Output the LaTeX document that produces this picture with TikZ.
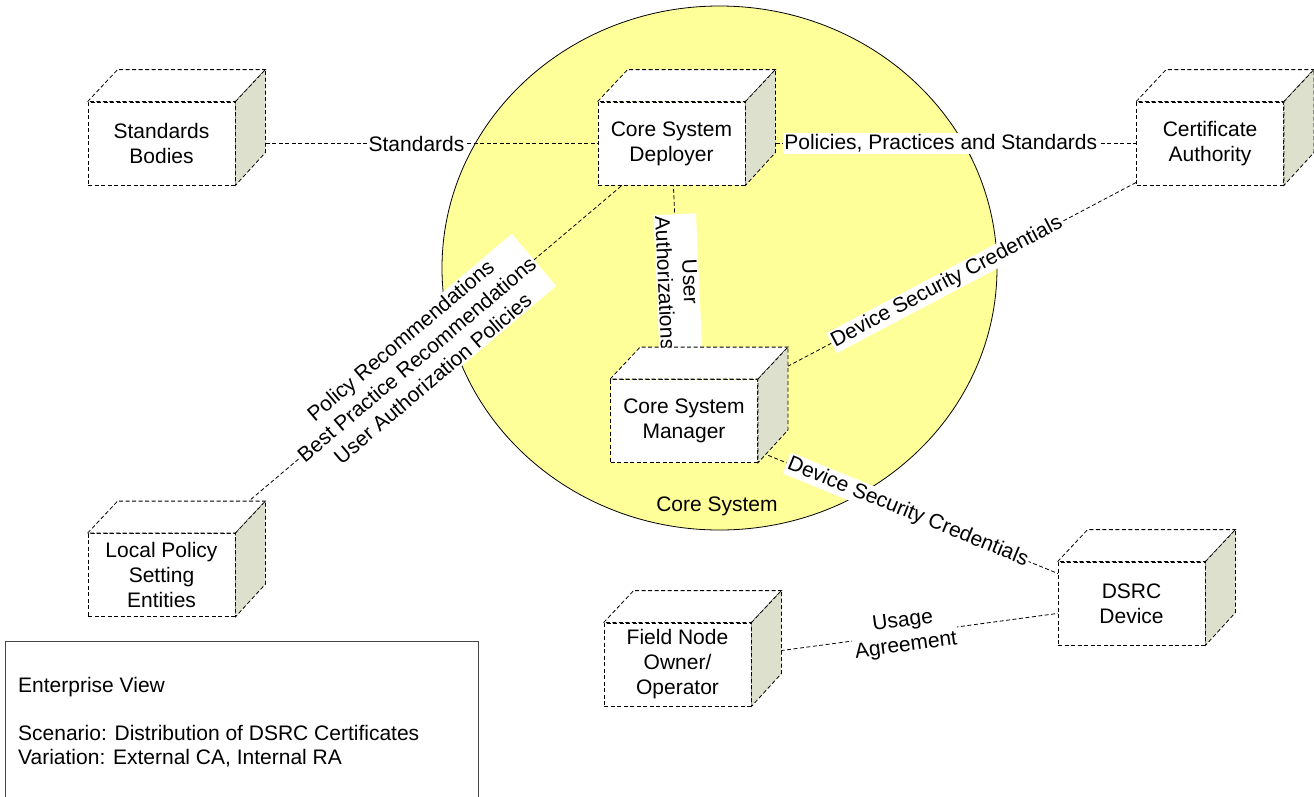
\documentclass[tikz,border=0pt]{standalone}
\usepackage{fontspec}
\setmainfont{Liberation Sans}
\usetikzlibrary{calc}
\pgfdeclarelayer{backdrop}
\pgfdeclarelayer{links}
\pgfsetlayers{backdrop,links,main}
\definecolor{coreyellow}{RGB}{255,255,153}
\definecolor{sideface}{RGB}{221,224,204}
\definecolor{framegray}{RGB}{70,70,70}
\tikzset{
  txt/.style={font=\fontsize{21}{25}\selectfont},
  dashline/.style={draw=black, line width=0.8pt, dash pattern=on 4pt off 2.5pt},
  frontface/.style={dashline, fill=white, txt, align=center,
    minimum width=147pt, minimum height=83pt, inner sep=0pt},
  link/.style={dashline},
  linklabel/.style={txt, fill=white, inner sep=1.5pt, align=center, sloped, pos=0.5},
  legendframe/.style={draw=framegray, line width=1pt},
}
% a node drawn as a box seen in perspective: front face, top face and shaded side
\newcommand\devicebox[3]{%
  \node[frontface] (#1) at (#2) {#3};
  \draw[dashline, fill=white] (#1.north west) -- ++(30,-32)
    -- ($(#1.north east)+(30,-32)$) -- (#1.north east) -- cycle;
  \draw[dashline, fill=sideface] (#1.north east) -- ++(30,-32) -- ++(0,83)
    -- (#1.south east) -- cycle;
}
\begin{document}
\begin{tikzpicture}[x=1pt,y=-1pt]
\useasboundingbox (0,0) rectangle (1314,796);
\clip (0,0) rectangle (1314,796);

\begin{pgfonlayer}{backdrop}
  \fill[white] (0,0) rectangle (1314,796);
  \draw[line width=0.8pt, fill=coreyellow] (719.5,268) ellipse [x radius=277.5pt, y radius=262pt];
\end{pgfonlayer}

\node[txt] (coresys) at (717,506) {Core System};

\devicebox{sb}{161.5,143.5}{Standards\\Bodies}
\devicebox{csd}{671.5,143.5}{Core System\\Deployer}
\devicebox{ca}{1210,143.5}{Certificate\\Authority}
\devicebox{csm}{684,421}{Core System\\Manager}
\devicebox{lps}{161.5,575}{Local Policy\\Setting\\Entities}
\devicebox{dsrc}{1131.5,603.5}{DSRC\\Device}
\devicebox{fno}{677.5,664.5}{Field Node\\Owner/\\Operator}

\begin{pgfonlayer}{links}
  \draw[link] (sb.center) -- node[linklabel] {Standards} (csd.center);
  \draw[link] (csd.center) -- node[linklabel] {Policies, Practices and Standards} (ca.center);
  \draw[link] (lps.center) -- node[linklabel] {Policy Recommendations\\Best Practice Recommendations\\User Authorization Policies} (csd.center);
  \draw[link] (csd.center) -- node[linklabel] {User\\Authorizations} (csm.center);
  \draw[link] (csm.center) -- node[linklabel] {Device Security Credentials} (ca.center);
  \draw[link] (csm.center) -- node[linklabel] {Device Security Credentials} (dsrc.center);
  \draw[link] (fno.center) -- node[linklabel] {Usage\\Agreement} (dsrc.center);
\end{pgfonlayer}

\draw[legendframe] (5,641) rectangle (478,830);
\node[txt, anchor=base west, inner sep=0pt] (legendtitle) at (18,692.5) {Enterprise View};
\node[txt, anchor=base west, inner sep=0pt] (legendscenario) at (18,740.5) {Scenario: Distribution of DSRC Certificates};
\node[txt, anchor=base west, inner sep=0pt] (legendvariation) at (18,764) {Variation: External CA, Internal RA};
\end{tikzpicture}
\end{document}
